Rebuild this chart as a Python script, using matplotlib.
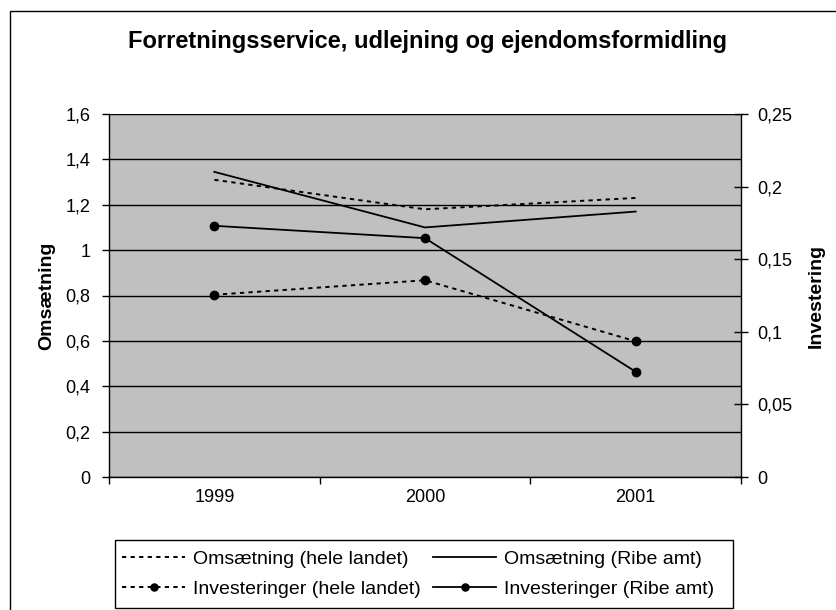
import matplotlib
matplotlib.use("Agg")
import matplotlib.pyplot as plt
from matplotlib.patches import Rectangle
from matplotlib.ticker import FixedLocator, FuncFormatter

plt.rcParams['font.family'] = ['Liberation Sans', 'DejaVu Sans']

years = ["1999", "2000", "2001"]
oms_hele = [1.31, 1.18, 1.23]
oms_ribe = [1.345, 1.10, 1.17]
inv_hele = [0.1255, 0.1355, 0.0935]
inv_ribe = [0.173, 0.1645, 0.0725]

W, H = 836, 610
fig = plt.figure(figsize=(W/100, H/100), dpi=100)
fig.patch.set_facecolor('white')

# outer frame
fig.add_artist(Rectangle((10/W, -0.1), 1.2, 1 - 11/H + 0.1, transform=fig.transFigure,
                         fill=False, edgecolor='black', linewidth=1.0))

left, right, top, bottom = 109, 741, 114, 477
ax = fig.add_axes([left/W, 1 - bottom/H, (right-left)/W, (bottom-top)/H])
ax.set_facecolor('#C0C0C0')
ax2 = ax.twinx()

x = list(range(len(years)))
dot = (0, (2.2, 2.2))
l1, = ax.plot(x, oms_hele, color='black', lw=1.4, linestyle=dot, label='Omsætning (hele landet)')
l2, = ax.plot(x, oms_ribe, color='black', lw=1.3, linestyle='-', label='Omsætning (Ribe amt)')
l3, = ax2.plot(x, inv_hele, color='black', lw=1.4, linestyle=dot, marker='o', markersize=6,
               label='Investeringer (hele landet)')
l4, = ax2.plot(x, inv_ribe, color='black', lw=1.3, linestyle='-', marker='o', markersize=6,
               label='Investeringer (Ribe amt)')

ax.set_xlim(-0.5, 2.5)
ax.set_ylim(0, 1.6)
ax2.set_ylim(0, 0.25)

fmt = FuncFormatter(lambda v, p: ('%g' % round(v, 2)).replace('.', ','))
ax.set_yticks([i*0.2 for i in range(9)])
ax.yaxis.set_major_formatter(fmt)
ax2.set_yticks([i*0.05 for i in range(6)])
ax2.yaxis.set_major_formatter(fmt)

ax.yaxis.grid(True, color='black', linewidth=1.0)
ax.set_axisbelow(True)

ax.set_xticks(x)
ax.set_xticklabels(years)
ax.xaxis.set_minor_locator(FixedLocator([-0.5, 0.5, 1.5, 2.5]))
ax.tick_params(axis='x', which='major', length=0, pad=9, labelsize=13)
ax.tick_params(axis='x', which='minor', length=5, direction='out', width=1)
ax.tick_params(axis='y', length=5, direction='out', width=1, labelsize=13, pad=8.5)
ax2.tick_params(axis='y', length=10, direction='inout', width=1, labelsize=13, pad=6.5)

for a in (ax, ax2):
    for s in a.spines.values():
        s.set_visible(False)
ax.spines['left'].set_visible(True)
ax.spines['bottom'].set_visible(True)
ax2.spines['right'].set_visible(True)
for a in (ax, ax2):
    for s in a.spines.values():
        s.set_linewidth(1.0)
        s.set_color('black')

ax.set_ylabel('Omsætning', fontsize=14, fontweight='bold', labelpad=7)
ax2.set_ylabel('Investering', fontsize=14, fontweight='bold', labelpad=11)

fig.text(428/W, 1 - 48/H, 'Forretningsservice, udlejning og ejendomsformidling',
         ha='center', va='baseline', fontsize=17, fontweight='bold')

# legend frame
lx0, lx1, ly0, ly1 = 115, 733, 540, 608
fig.add_artist(Rectangle((lx0/W, 1 - ly1/H), (lx1-lx0)/W, (ly1-ly0)/H, transform=fig.transFigure,
                         fill=False, edgecolor='black', linewidth=1.0))
leg = fig.legend([l1, l3, l2, l4], [h.get_label() for h in (l1, l3, l2, l4)],
                 ncol=2, loc='upper left', bbox_to_anchor=(lx0/W, 1 - (ly0 + 3)/H),
                 fontsize=14, handlelength=3.24, frameon=False, markerscale=0.85,
                 borderpad=0.36, labelspacing=0.65, columnspacing=0.65,
                 handletextpad=0.41, borderaxespad=0)

fig.savefig('out.png', dpi=100, facecolor='white')
